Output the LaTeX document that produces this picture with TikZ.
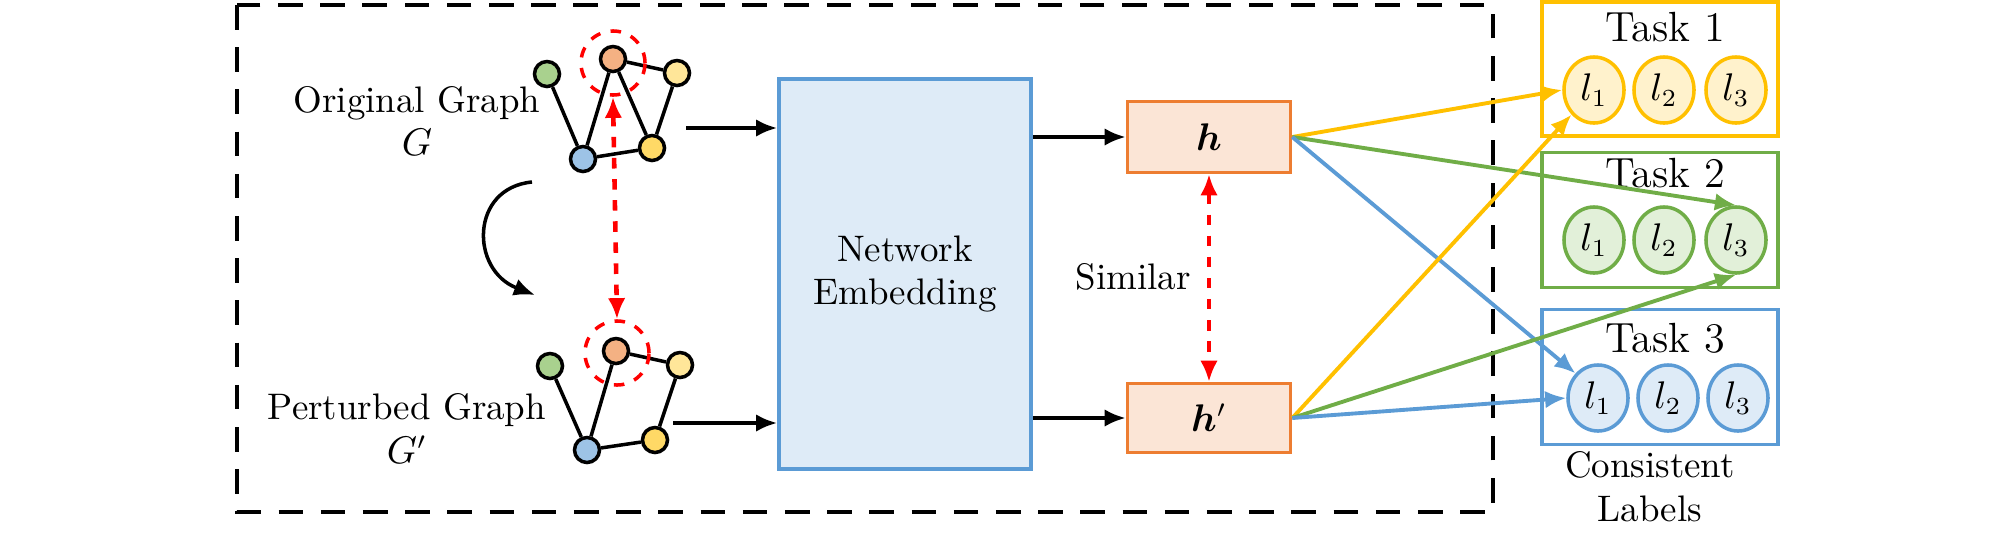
\documentclass[tikz,border=0pt]{standalone}
\usepackage{amsmath,bm}
\usetikzlibrary{arrows.meta,shapes.geometric}
\definecolor{cgreen}{HTML}{A9D18E}
\definecolor{corange}{HTML}{F4B183}
\definecolor{cyellowl}{HTML}{FFE699}
\definecolor{cyellow}{HTML}{FFD966}
\definecolor{cblue}{HTML}{9DC3E6}
\definecolor{bluel}{HTML}{5B9BD5}
\definecolor{bluef}{HTML}{DEEBF7}
\definecolor{orl}{HTML}{ED7D31}
\definecolor{orf}{HTML}{FBE5D6}
\definecolor{yel}{HTML}{FFC000}
\definecolor{yef}{HTML}{FFF2CC}
\definecolor{grl}{HTML}{70AD47}
\definecolor{grf}{HTML}{E2F0D9}
\tikzset{
  vtx/.style={circle,draw=black,line width=1pt,minimum size=0.25cm,inner sep=0pt},
  lbl/.style={ellipse,draw=#1,line width=1pt,minimum width=0.6cm,minimum height=0.66cm,inner sep=0pt},
  arr/.style={-{Latex[length=6pt,width=5pt]},line width=1.1pt},
  txt/.style={font=\fontsize{10.5}{12.5}\selectfont,align=center}
}
\begin{document}
\begin{tikzpicture}[x=0.01cm,y=-0.01cm]
        \useasboundingbox (0,0) rectangle (2008,533);
        % Outer dashed frame
        \draw[dashed,line width=1pt,dash pattern=on 7pt off 5pt] (237,5) rectangle (1493,512);

        % Original graph
        \node[vtx,fill=cgreen] (g1) at (547,74) {};
        \node[vtx,fill=corange] (g2) at (613,59) {};
        \node[vtx,fill=cyellowl] (g3) at (677,73) {};
        \node[vtx,fill=cblue] (g4) at (583,159) {};
        \node[vtx,fill=cyellow] (g5) at (652,148) {};
        \draw[line width=1pt] (g1) -- (g4) -- (g2) -- (g3) -- (g5) -- (g2) (g4) -- (g5);
        \node[circle,draw=red,dashed,line width=1pt,minimum size=0.64cm] (gc) at (613,63) {};

        % Perturbed graph
        \node[vtx,fill=cgreen] (p1) at (550,366) {};
        \node[vtx,fill=corange] (p2) at (616,351) {};
        \node[vtx,fill=cyellowl] (p3) at (680,365) {};
        \node[vtx,fill=cblue] (p4) at (587,450) {};
        \node[vtx,fill=cyellow] (p5) at (655,440) {};
        \draw[line width=1pt] (p1) -- (p4) -- (p2) -- (p3) -- (p5) -- (p4);
        \node[circle,draw=red,dashed,line width=1pt,minimum size=0.64cm] (pc) at (617,353) {};

        % Labels of the graphs
        \node[txt] (og) at (417,121) {Original Graph\\$G$};
        \node[txt] (pg) at (407,428) {Perturbed Graph\\$G'$};

        % Perturbation arrow and matching node
        \coordinate (c1) at (532,182);
        \coordinate (c2) at (535,295);
        \draw[arr,line width=1pt] (c1) .. controls (470,188) and (470,270) .. (c2);
        \draw[{Latex[length=6pt,width=5pt]}-{Latex[length=6pt,width=5pt]},red,dashed,line width=1.3pt] (gc.south) -- (pc.north);

        % Network embedding
        \node[draw=bluel,fill=bluef,line width=1pt,minimum width=2.52cm,minimum height=3.9cm,txt] (emb) at (905,274) {Network\\Embedding};
        \coordinate (a1) at (686,128);
        \coordinate (a2) at (673,423);
        \draw[arr] (a1) -- (emb.west |- a1);
        \draw[arr] (a2) -- (emb.west |- a2);

        % Embeddings
        \node[draw=orl,fill=orf,line width=1pt,minimum width=1.63cm,minimum height=0.71cm,txt] (h) at (1209,137) {$\bm{h}$};
        \node[draw=orl,fill=orf,line width=1pt,minimum width=1.63cm,minimum height=0.69cm,txt] (hp) at (1209,418) {$\bm{h}'$};
        \draw[arr] (emb.east |- h) -- (h);
        \draw[arr] (emb.east |- hp) -- (hp);
        \draw[{Latex[length=6pt,width=5pt]}-{Latex[length=6pt,width=5pt]},red,dashed,line width=1.1pt] (h) -- (hp);
        \node[txt] (sim) at (1133,277) {Similar};

        % Tasks
        \node[draw=yel,line width=1pt,minimum width=2.36cm,minimum height=1.34cm] (t1) at (1660,69) {};
        \node[draw=grl,line width=1pt,minimum width=2.36cm,minimum height=1.35cm] (t2) at (1660,220) {};
        \node[draw=bluel,line width=1pt,minimum width=2.36cm,minimum height=1.35cm] (t3) at (1660,377) {};
        \node[txt,font=\fontsize{12}{14}\selectfont] at (1665,27) {Task 1};
        \node[txt,font=\fontsize{12}{14}\selectfont] at (1665,173) {Task 2};
        \node[txt,font=\fontsize{12}{14}\selectfont] at (1665,338) {Task 3};
        \foreach \i/\x in {1/1594,2/1664,3/1736} {
          \node[lbl=yel,fill=yef,txt] (a\i) at (\x,90) {$l_\i$};
          \node[lbl=grl,fill=grf,txt] (b\i) at (\x,240) {$l_\i$};
        }
        \foreach \i/\x in {1/1598,2/1668,3/1738}
          \node[lbl=bluel,fill=bluef,txt] (c\i) at (\x,398) {$l_\i$};
        \node[txt] (cl) at (1650,487) {Consistent\\Labels};

        % Task heads
        \draw[arr,yel] (h.east) -- (a1.west);
        \draw[arr,grl] (h.east) -- (b3.north);
        \draw[arr,bluel] (h.east) -- (c1.north west);
        \draw[arr,yel] (hp.east) -- (a1.south west);
        \draw[arr,grl] (hp.east) -- (b3.south);
        \draw[arr,bluel] (hp.east) -- (c1.west);
\end{tikzpicture}
\end{document}
